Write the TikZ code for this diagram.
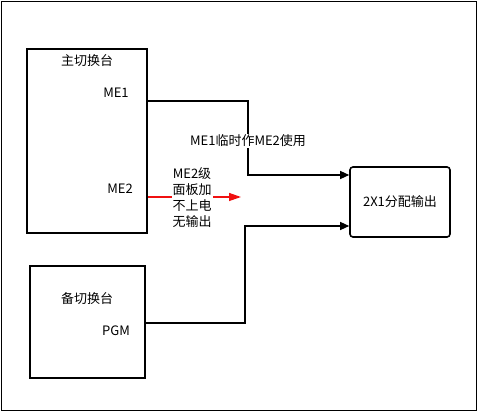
\documentclass[tikz,border=0pt]{standalone}
\usepackage{fontspec}
\setmainfont{Noto Sans CJK SC}
\usepackage{tikz}
\usetikzlibrary{arrows.meta,positioning,calc}
\definecolor{sigred}{HTML}{F01010}

\begin{document}
\begin{tikzpicture}[x=1pt, y=-1pt,
    unit/.style={draw, line width=1.6pt, inner sep=0pt},
    dist/.style={draw, line width=1.6pt, rounded corners=3pt, inner sep=0pt,
                 minimum width=100pt, minimum height=70pt, font=\fontsize{13}{15}\selectfont},
    lbl/.style={font=\fontsize{13}{15}\selectfont, inner sep=1pt},
    sig/.style={-{Triangle[length=9pt, width=8pt]}, line width=1.3pt},
    bad/.style={line width=1.3pt, sigred},
  ]
    \useasboundingbox (0,0) rectangle (477,411);
    \draw[line width=0.8pt] (1,1) rectangle (476,410);

    % switchers
    \node[unit, minimum width=120pt, minimum height=184pt] (main) at (87,141) {};
    \node[unit, minimum width=115pt, minimum height=112pt] (bkup) at (87.5,322) {};
    \node[dist] (dist) at (400,202) {2X1分配输出};

    \node[lbl] (mainname) at (87,61) {主切换台};
    \node[lbl] (me1) at (116,93) {ME1};
    \node[lbl] (me2) at (120,189) {ME2};
    \node[lbl] (bkupname) at (87,299) {备切换台};
    \node[lbl] (pgm) at (116,331) {PGM};

    % ports
    \coordinate (p1) at (main.east |- 0,101);
    \coordinate (p2) at (main.east |- 0,197);
    \coordinate (p3) at (bkup.east |- 0,323);
    \coordinate (deadend) at (241,197);

    \draw[sig] (p1) -| (248,175) -- (dist.west |- 0,175);
    \draw[sig] (p3) -| (245,226) -- (dist.west |- 0,226);
    \draw[bad, -{Triangle[length=12pt, width=8pt]}] (p2) -- (deadend);

    \node[lbl, fill=white] (temp) at (248,141) {ME1临时作ME2使用};
    \node[lbl, fill=white, align=center, inner sep=1pt,
          font=\fontsize{13}{16}\selectfont] (nopower) at (192,198)
      {ME2级\\面板加\\不上电\\无输出};
\end{tikzpicture}
\end{document}
